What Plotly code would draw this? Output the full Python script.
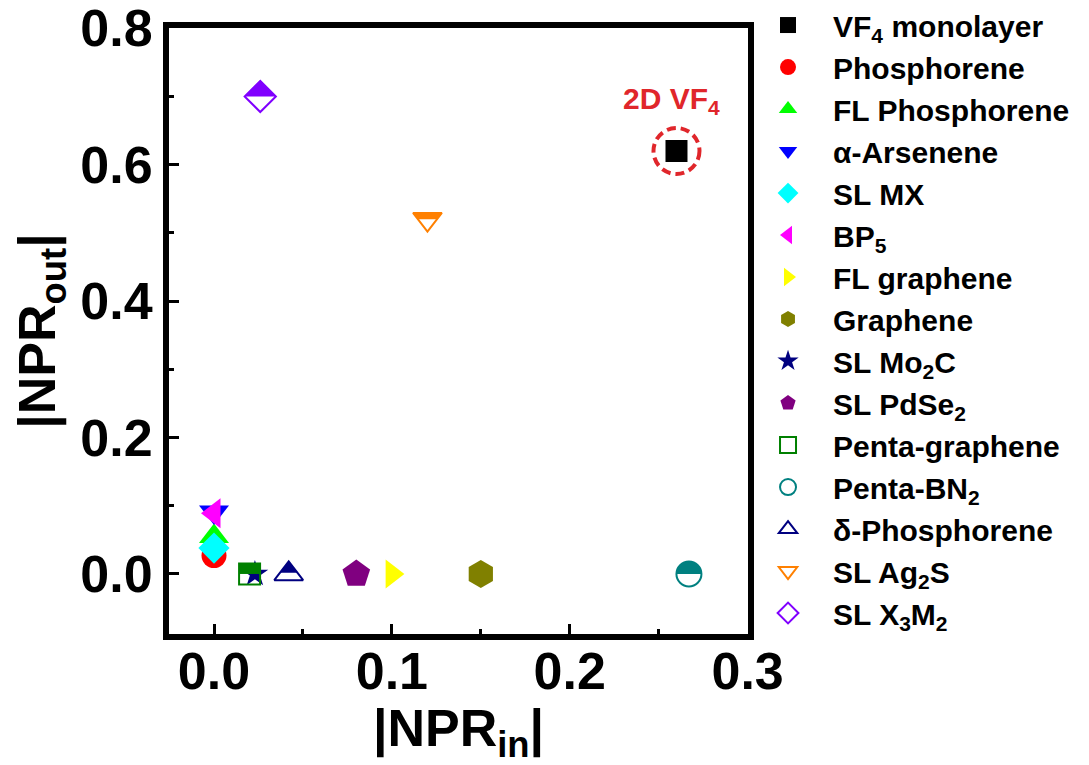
import math
import plotly.graph_objects as go

# ---------------- data ----------------
names = ["VF<sub>4</sub> monolayer", "Phosphorene", "FL Phosphorene", "α-Arsenene",
         "SL MX", "BP<sub>5</sub>", "FL graphene", "Graphene", "SL Mo<sub>2</sub>C",
         "SL PdSe<sub>2</sub>", "Penta-graphene", "Penta-BN<sub>2</sub>",
         "δ-Phosphorene", "SL Ag<sub>2</sub>S", "SL X<sub>3</sub>M<sub>2</sub>"]
npr_in = [0.26, 0.0, 0.0, 0.0, 0.0, 0.0, 0.10, 0.15, 0.023, 0.08, 0.02, 0.267, 0.042, 0.12, 0.026]
npr_out = [0.62, 0.027, 0.055, 0.091, 0.038, 0.089, 0.0, 0.0, 0.0, 0.0, 0.0, 0.0, 0.0, 0.52, 0.70]
x_ticks = [0.0, 0.1, 0.2, 0.3]
y_ticks = [0.0, 0.2, 0.4, 0.6, 0.8]
highlight_label = "2D VF<sub>4</sub>"

# ---------------- styles ----------------
symbols = ["square", "circle", "triangle-up", "triangle-down", "diamond", "triangle-left",
           "triangle-right", "hexagon", "star", "pentagon", "square-open", "circle-open",
           "triangle-up-open", "triangle-down-open", "diamond-open"]
colors = ["#000000", "#ff0000", "#00ff00", "#0000ff", "#00ffff", "#ff00ff", "#ffff00",
          "#808000", "#000080", "#800080", "#008000", "#008080", "#000080", "#ff8000", "#8000ff"]
sizes = [22, 25, 26, 26, 24, 26, 25, 28, 20, 29, 21, 25, 25, 25, 24]
half = [None, None, None, None, None, None, None, None, None, None,
        "square", "circle", "tri-up", "tri-down", "diamond"]

FONT = "Liberation Sans"
RED = "#e0262b"

fig = go.Figure()
for i, nm in enumerate(names):
    fig.add_trace(go.Scatter(
        x=[npr_in[i]], y=[npr_out[i]], mode="markers", name=nm,
        marker=dict(symbol=symbols[i], size=sizes[i], color=colors[i],
                    line=dict(width=2 if half[i] else 0, color=colors[i])),
    ))


def poly(pts):
    return "M " + " L ".join(f"{px:.2f},{py:.2f}" for px, py in pts) + " Z"


# half-filled parts of the "half" symbols, anchored at the data points (pixel sized)
shapes = []
for i, kind in enumerate(half):
    if kind is None:
        continue
    r = sizes[i] / 2.0
    rt = r * 2 / 3 ** 0.5
    r2 = r / 2.0
    if kind == "square":
        path = poly([(-r, 0), (r, 0), (r, r), (-r, r)])
    elif kind == "circle":
        n = 24
        path = poly([(r * math.cos(math.pi * k / n), r * math.sin(math.pi * k / n))
                     for k in range(n + 1)])
    elif kind == "tri-up":
        ym = 0.1 * r
        w = rt * (r - ym) / (1.5 * r)
        path = poly([(0, r), (w, ym), (-w, ym)])
    elif kind == "tri-down":
        ym = 0.0
        w = rt * (ym + r) / (1.5 * r)
        path = poly([(-rt, r2), (rt, r2), (w, ym), (-w, ym)])
    else:  # diamond
        rd = 1.3 * r
        path = poly([(-rd, 0), (0, rd), (rd, 0)])
    shapes.append(dict(type="path", xref="x", yref="y", xsizemode="pixel", ysizemode="pixel",
                       xanchor=npr_in[i], yanchor=npr_out[i], path=path,
                       fillcolor=colors[i], line=dict(width=0), layer="above"))

# dashed highlight ring around VF4
shapes.append(dict(type="circle", xref="x", yref="y", xsizemode="pixel", ysizemode="pixel",
                   xanchor=npr_in[0], yanchor=npr_out[0], x0=-23, x1=23, y0=-23, y1=23,
                   line=dict(color=RED, width=4, dash="9px,5px"), layer="above"))

fig.add_annotation(x=npr_in[0], y=npr_out[0], text=highlight_label, showarrow=False,
                   xshift=-5, yshift=51,
                   font=dict(family=FONT, size=30, color=RED, weight="bold"))

axis_common = dict(
    showline=True, linecolor="black", linewidth=6, mirror=True,
    ticks="inside", ticklen=10, tickwidth=3, tickcolor="black",
    showgrid=False, zeroline=False, tickformat=".1f", ticklabeloverflow="allow",
    tickfont=dict(family=FONT, size=52, color="black", weight="bold"),
)

fig.update_layout(
    width=1089, height=765,
    margin=dict(l=169, r=341, t=28, b=131, autoexpand=False),
    paper_bgcolor="white", plot_bgcolor="white",
    shapes=shapes,
    xaxis=dict(range=[-0.0253, 0.3002], tickvals=x_ticks, ticklabelstandoff=-13,
               minor=dict(dtick=0.05, ticks="inside", ticklen=5, tickwidth=3, tickcolor="black"),
               title=dict(text="|NPR<sub>in</sub>|",
                          font=dict(family=FONT, size=52, color="black", weight="bold"),
                          standoff=0),
               **axis_common),
    yaxis=dict(range=[-0.088, 0.8003], tickvals=y_ticks,
               minor=dict(dtick=0.1, ticks="inside", ticklen=5, tickwidth=3, tickcolor="black"),
               title=dict(text="|NPR<sub>out</sub>|",
                          font=dict(family=FONT, size=52, color="black", weight="bold"),
                          standoff=10),
               **axis_common),
    legend=dict(x=0.9914, xanchor="left", y=1.0478, yanchor="top",
                font=dict(family=FONT, size=30, color="black", weight="bold"),
                bgcolor="rgba(0,0,0,0)", borderwidth=0, tracegroupgap=0,
                itemsizing="trace", itemwidth=80),
    showlegend=True,
)
try:
    fig.update_layout(legend_maxheight=700)
except Exception:
    pass

fig.write_html("out.html", config={"displayModeBar": False},
               post_script="document.body.style.margin='0';document.body.style.overflow='hidden';")
